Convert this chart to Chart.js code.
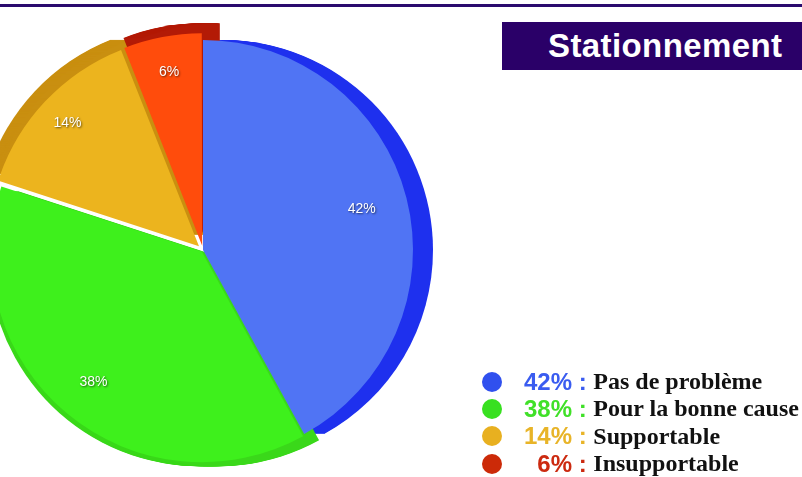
<!DOCTYPE html>
<html>
<head>
<meta charset="utf-8">
<script src="https://cdn.jsdelivr.net/npm/chart.js@4/dist/chart.umd.min.js"></script>
<style>
  html, body { margin: 0; padding: 0; background: #fff; }
  #wrap { position: relative; width: 802px; height: 477px; overflow: hidden; background: #fff; }
  #topline { position: absolute; left: 0; top: 4px; width: 802px; height: 3px; background: #2a0a6e; }
  #title { position: absolute; left: 502px; top: 22px; width: 300px; height: 48px; background: #2a0068;
           color: #fff; font: bold 33px "Liberation Sans", Arial, sans-serif; line-height: 48px;
           box-sizing: border-box; padding-left: 46px; white-space: nowrap; letter-spacing: 0.4px; }
  #c { position: absolute; left: 0; top: 0; }
  #legend { position: absolute; left: 482px; top: 368px; }
  .row { height: 27.3px; line-height: 27px; white-space: nowrap; display: flex; align-items: center; }
  .dot { width: 20px; height: 20px; border-radius: 50%; display: inline-block; margin-right: 12px; }
  .pct { display: inline-block; width: 58px; text-align: right; font: bold 24px "Liberation Sans", Arial, sans-serif; }
  .sep { display: inline-block; font: bold 24px "Liberation Sans", Arial, sans-serif; white-space: pre; }
  .lbl { display: inline-block; font: bold 24px "Liberation Serif", "Times New Roman", serif; color: #111; }
</style>
</head>
<body>
<div id="wrap">
  <div id="topline"></div>
  <canvas id="c" width="802" height="477"></canvas>
  <div id="title">Stationnement</div>
  <div id="legend"></div>
</div>
<script>
// ---- data ----
const categories = ["Pas de problème", "Pour la bonne cause", "Supportable", "Insupportable"];
const values = [42, 38, 14, 6];
const pctLabels = ["42%", "38%", "14%", "6%"];

// ---- styles ----
const faceColors = ["#5074f4", "#3ef01c", "#ecb41e", "#ff4c0c"];
const sideColors = ["#1e30ee", "#3ad81a", "#c98f10", "#b31a06"];
const legendDotColors = ["#3050ee", "#38e020", "#e8b020", "#cc2a08"];
const legendTextColors = ["#3a5cf0", "#40e028", "#e8b428", "#cc2a10"];
const sliceOffsets = [0, 8, 22, 17];
const depth = 20;

const extrudePlugin = {
  id: 'extrude',
  beforeDatasetsDraw(chart) {
    const ctx = chart.ctx;
    const meta = chart.getDatasetMeta(0);
    meta.data.forEach((arc, i) => {
      const p = arc.getProps(['x', 'y', 'startAngle', 'endAngle', 'outerRadius'], true);
      const off = arc.options.offset || 0;
      const mid = (p.startAngle + p.endAngle) / 2;
      const cx = p.x + Math.cos(mid) * off, cy = p.y + Math.sin(mid) * off;
      ctx.save();
      ctx.fillStyle = sideColors[i];
      for (let k = 1; k <= depth; k++) {
        ctx.beginPath();
        ctx.moveTo(cx + k, cy);
        ctx.arc(cx + k, cy, p.outerRadius, p.startAngle, p.endAngle);
        ctx.closePath();
        ctx.fill();
      }
      ctx.restore();
    });
  }
};

const labelPlugin = {
  id: 'sliceLabels',
  afterDatasetsDraw(chart) {
    const ctx = chart.ctx;
    const meta = chart.getDatasetMeta(0);
    meta.data.forEach((arc, i) => {
      const p = arc.getProps(['x', 'y', 'startAngle', 'endAngle', 'outerRadius'], true);
      const off = arc.options.offset || 0;
      const mid = (p.startAngle + p.endAngle) / 2;
      const r = off + p.outerRadius * 0.78;
      const tx = p.x + Math.cos(mid) * r, ty = p.y + Math.sin(mid) * r;
      ctx.save();
      ctx.font = '14px "Liberation Sans", Arial, sans-serif';
      ctx.textAlign = 'center';
      ctx.textBaseline = 'middle';
      ctx.shadowColor = 'rgba(0,0,0,0.6)';
      ctx.shadowBlur = 2;
      ctx.shadowOffsetX = 1;
      ctx.shadowOffsetY = 1;
      ctx.fillStyle = '#ffffff';
      ctx.fillText(pctLabels[i], tx, ty);
      ctx.restore();
    });
  }
};

new Chart(document.getElementById('c'), {
  type: 'pie',
  data: {
    labels: categories,
    datasets: [{
      data: values,
      backgroundColor: faceColors,
      borderWidth: 0,
      offset: sliceOffsets,
      radius: 210
    }]
  },
  options: {
    responsive: false,
    animation: false,
    layout: { padding: { left: 0, right: 396, top: 23, bottom: 0 } },
    plugins: { legend: { display: false }, tooltip: { enabled: false } }
  },
  plugins: [extrudePlugin, labelPlugin]
});

// HTML legend built from the arrays
const lg = document.getElementById('legend');
categories.forEach((cat, i) => {
  const row = document.createElement('div');
  row.className = 'row';
  row.innerHTML =
    '<span class="dot" style="background:' + legendDotColors[i] + '"></span>' +
    '<span class="pct" style="color:' + legendTextColors[i] + '">' + pctLabels[i] + '</span>' +
    '<span class="sep" style="color:' + legendTextColors[i] + '"> : </span>' +
    '<span class="lbl">' + cat + '</span>';
  lg.appendChild(row);
});
</script>
</body>
</html>
